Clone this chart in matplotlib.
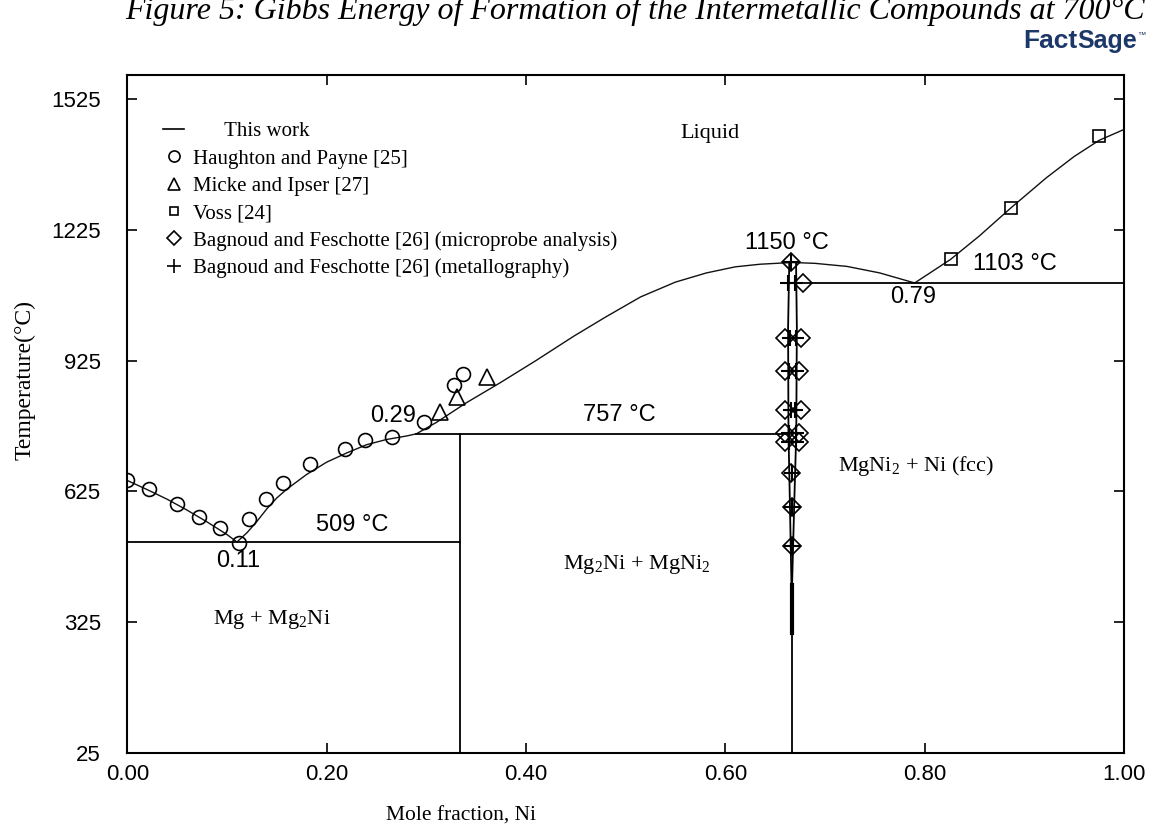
import matplotlib
matplotlib.use('Agg')
import matplotlib.pyplot as plt
from matplotlib.lines import Line2D

plt.rcParams['font.family'] = ['Liberation Serif', 'DejaVu Serif']
plt.rcParams['mathtext.fontset'] = 'custom'
plt.rcParams['mathtext.rm'] = 'Liberation Serif'
plt.rcParams['mathtext.it'] = 'Liberation Serif:italic'

SANS = ['Liberation Sans', 'DejaVu Sans']

# liquidus calculated in this work (mole fraction Ni, T in C)
liq_x = [0.0, 0.02, 0.04, 0.06, 0.08, 0.10, 0.11,
         0.12, 0.13, 0.14, 0.15, 0.16, 0.18, 0.20, 0.22, 0.24, 0.26, 0.28, 0.29,
         0.31, 0.34, 0.374, 0.41, 0.448, 0.48, 0.515, 0.55, 0.581, 0.61, 0.635, 0.667,
         0.69, 0.722, 0.755, 0.79,
         0.826, 0.855, 0.887, 0.922, 0.95, 0.975, 1.0]
liq_t = [650, 629, 607, 582, 555, 526, 509,
         530, 556, 585, 610, 630, 664, 692, 713, 732, 744, 752, 757,
         783, 828, 874, 925, 981, 1025, 1071, 1105, 1126, 1140, 1146, 1150,
         1148, 1141, 1126, 1103,
         1157, 1211, 1276, 1344, 1393, 1430, 1455]

# MgNi2 homogeneity range
mgni2_t = [1150, 1000, 757, 600, 410]
mgni2_left = [0.6642, 0.6630, 0.6634, 0.6648, 0.6664]
mgni2_right = [0.6710, 0.6718, 0.6712, 0.6692, 0.6670]

# invariant lines
inv_t = [509, 757, 1103]
inv_x0 = [0.0, 0.29, 0.672]
inv_x1 = [1 / 3, 0.6634, 1.0]

# experimental data
hp_x = [0.0, 0.022, 0.050, 0.072, 0.093, 0.112, 0.122, 0.139, 0.156, 0.183,
        0.218, 0.238, 0.266, 0.298, 0.328, 0.337]
hp_t = [650, 630, 595, 566, 540, 507, 561, 608, 644, 688,
        722, 743, 749, 785, 869, 895]

mi_x = [0.314, 0.331, 0.361]
mi_t = [808, 842, 888]

voss_x = [0.826, 0.887, 0.975]
voss_t = [1157, 1276, 1441]

bf_mp_x = [0.666, 0.678, 0.660, 0.676, 0.660, 0.674, 0.660, 0.676,
           0.660, 0.674, 0.660, 0.674, 0.666, 0.667, 0.667]
bf_mp_t = [1150, 1103, 976, 976, 900, 900, 812, 812,
           758, 758, 739, 739, 667, 590, 500]

bf_met_x = [0.666, 0.663, 0.670, 0.665, 0.671, 0.664, 0.671, 0.666, 0.670,
            0.664, 0.671, 0.664, 0.671, 0.667, 0.667, 0.667]
bf_met_t = [1150, 1103, 1103, 976, 976, 900, 900, 812, 812,
            758, 758, 739, 739, 667, 590, 500]

y_ticks = [25, 325, 625, 925, 1225, 1525]
x_ticks = [0.0, 0.2, 0.4, 0.6, 0.8, 1.0]
x_tick_labels = ['0.00', '0.20', '0.40', '0.60', '0.80', '1.00']

fig = plt.figure(figsize=(11.49, 8.34), dpi=100)
ax = fig.add_axes([0.1108, 0.0971, 0.8674, 0.8130])

# phase boundaries
ax.plot(liq_x, liq_t, color='#111111', lw=1.0)
for t, a, b in zip(inv_t, inv_x0, inv_x1):
    ax.plot([a, b], [t, t], color='black', lw=1.3)
ax.plot([1 / 3, 1 / 3], [25, 757], color='black', lw=1.3)
ax.plot(mgni2_left, mgni2_t, color='black', lw=1.3)
ax.plot(mgni2_right, mgni2_t, color='black', lw=1.3)
ax.plot([2 / 3, 2 / 3], [300, 410], color='black', lw=3.0)
ax.plot([2 / 3, 2 / 3], [25, 300], color='black', lw=1.3)

mk = dict(ls='none', mfc='none', mec='black', mew=1.2)
ax.plot(hp_x, hp_t, marker='o', ms=10, **mk)
ax.plot(mi_x, mi_t, marker='^', ms=12, **mk)
ax.plot(voss_x, voss_t, marker='s', ms=8, **mk)
ax.plot(bf_mp_x, bf_mp_t, marker='D', ms=9, **mk)
ax.plot(bf_met_x, bf_met_t, marker='+', ms=11, ls='none', color='black', mew=1.5)

# region labels
reg = dict(ha='center', va='center', fontsize=16)
ax.text(0.585, 1445, 'Liquid', **reg)
ax.text(0.145, 332, r'Mg + Mg$_2$Ni', **reg)
ax.text(0.511, 458, r'Mg$_2$Ni + MgNi$_2$', **reg)
ax.text(0.791, 683, r'MgNi$_2$ + Ni (fcc)', **reg)

num = dict(ha='center', va='center', fontsize=17, family=SANS)
ax.text(0.662, 1195, '1150 °C', **num)
ax.text(0.891, 1147, '1103 °C', **num)
ax.text(0.788, 1071, '0.79', **num)
ax.text(0.267, 798, '0.29', **num)
ax.text(0.494, 800, '757 °C', **num)
ax.text(0.226, 548, '509 °C', **num)
ax.text(0.111, 466, '0.11', **num)

handles = [
    Line2D([], [], color='black', lw=1.2),
    Line2D([], [], marker='o', ms=8, **mk),
    Line2D([], [], marker='^', ms=9, **mk),
    Line2D([], [], marker='s', ms=6, **mk),
    Line2D([], [], marker='D', ms=7, **mk),
    Line2D([], [], marker='+', ms=10, ls='none', color='black', mew=1.2),
]
labels = ['      This work',
          'Haughton and Payne [25]',
          'Micke and Ipser [27]',
          'Voss [24]',
          'Bagnoud and Feschotte [26] (microprobe analysis)',
          'Bagnoud and Feschotte [26] (metallography)']
ax.legend(handles, labels, loc='upper left', bbox_to_anchor=(0.036, 0.931),
          frameon=False, fontsize=15, handlelength=1.0, handletextpad=0.45,
          labelspacing=0.37, borderpad=0, borderaxespad=0)

ax.set_xlim(0, 1)
ax.set_ylim(25, 1580)
ax.set_xticks(x_ticks)
ax.set_xticklabels(x_tick_labels, fontsize=16, family=SANS)
ax.set_yticks(y_ticks)
ax.set_yticklabels([str(v) for v in y_ticks], fontsize=16, family=SANS)
ax.tick_params(direction='in', length=7, width=1.2, top=True, right=True)
ax.tick_params(axis='y', pad=19)
ax.tick_params(axis='x', pad=8)
for s in ax.spines.values():
    s.set_linewidth(1.5)

ax.set_xlabel('Mole fraction, Ni', fontsize=15.5)
ax.xaxis.set_label_coords(0.335, -0.079)
ax.set_ylabel('Temperature(°C)', fontsize=17)
ax.yaxis.set_label_coords(-0.092, 0.55)

fig.text(1145 / 1149, 1 - 19 / 834,
         'Figure 5: Gibbs Energy of Formation of the Intermetallic Compounds at 700°C',
         ha='right', va='baseline', fontsize=23, style='italic')

# FactSage logo
navy = '#1c3868'
sage = fig.text(1137 / 1149, 1 - 48 / 834, 'Sage', ha='right', va='baseline',
                fontsize=18, weight='bold', family=SANS, color=navy)
fig.text(1146 / 1149, 1 - 37 / 834, '™', ha='right', va='baseline',
         fontsize=6, family=SANS, color=navy)
ax.annotate('Fact', xy=(0, 0), xycoords=sage, ha='right', va='bottom',
            fontsize=19, weight='bold', family=SANS,
            color=navy, annotation_clip=False)

fig.savefig('out.png', dpi=100)
